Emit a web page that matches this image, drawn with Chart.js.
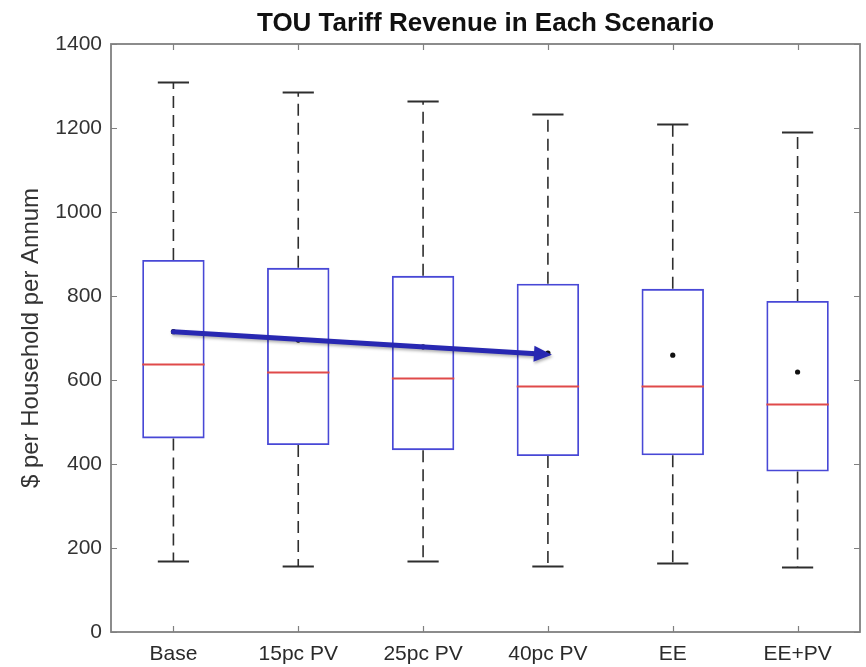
<!DOCTYPE html>
<html>
<head>
<meta charset="utf-8">
<script src="https://cdn.jsdelivr.net/npm/chart.js@4/dist/chart.umd.min.js"></script>
<style>
  html, body { margin: 0; padding: 0; background: #fff; }
  #wrap { width: 866px; height: 667px; position: relative; }
</style>
</head>
<body>
<div id="wrap"><canvas id="chart"></canvas></div>
<script>
// Box-plot summary per scenario ($ per household per annum)
const scenarios   = ['Base', '15pc PV', '25pc PV', '40pc PV', 'EE', 'EE+PV'];
const whiskerLow  = [169, 157, 169, 157, 164, 155];
const quartile1   = [461, 445, 433, 419, 421, 382];
const medians     = [637, 618, 605, 586, 586, 543];
const quartile3   = [886, 867, 848, 829, 817, 788];
const whiskerHigh = [1309, 1285, 1264, 1233, 1210, 1190];
const means       = [715, 695, 679, 664, 659, 619];
const yTickValues = [0, 200, 400, 600, 800, 1000, 1200, 1400];

// Trend arrow between two scenario means
const trendStart = ['Base', 715];
const trendEnd   = ['40pc PV', 660];

const FONT = "'Liberation Sans', Arial, Helvetica, sans-serif";
const BOX_BLUE = '#4848d6';
const MEDIAN_RED = '#e04a4a';
const FRAME_GREY = '#808080';

const boxPlotPlugin = {
  id: 'boxPlotExtras',
  afterDatasetsDraw(chart) {
    const { ctx, chartArea: a, scales: { x, y } } = chart;
    const meta = chart.getDatasetMeta(0);
    ctx.save();

    // whiskers, caps and medians
    scenarios.forEach((name, i) => {
      const bar = meta.data[i];
      const cx = x.getPixelForValue(i);
      const half = bar.width / 2;
      const capHalf = half / 2;

      ctx.strokeStyle = '#2e2e2e';
      ctx.lineWidth = 1.6;
      ctx.setLineDash([12, 7]);
      ctx.beginPath();
      ctx.moveTo(cx, y.getPixelForValue(quartile3[i]));
      ctx.lineTo(cx, y.getPixelForValue(whiskerHigh[i]));
      ctx.moveTo(cx, y.getPixelForValue(quartile1[i]));
      ctx.lineTo(cx, y.getPixelForValue(whiskerLow[i]));
      ctx.stroke();
      ctx.setLineDash([]);

      ctx.lineWidth = 1.8;
      ctx.beginPath();
      const hi = Math.round(y.getPixelForValue(whiskerHigh[i])) + 0.5;
      const lo = Math.round(y.getPixelForValue(whiskerLow[i])) + 0.5;
      ctx.moveTo(cx - capHalf, hi); ctx.lineTo(cx + capHalf, hi);
      ctx.moveTo(cx - capHalf, lo); ctx.lineTo(cx + capHalf, lo);
      ctx.stroke();

      ctx.strokeStyle = MEDIAN_RED;
      ctx.lineWidth = 1.8;
      ctx.beginPath();
      const my = Math.round(y.getPixelForValue(medians[i])) + 0.5;
      ctx.moveTo(cx - half, my); ctx.lineTo(cx + half, my);
      ctx.stroke();
    });

    // axes frame with inward tick marks
    ctx.strokeStyle = FRAME_GREY;
    ctx.lineWidth = 1.8;
    ctx.strokeRect(a.left, a.top, a.right - a.left, a.bottom - a.top);
    ctx.lineWidth = 1.2;
    ctx.beginPath();
    yTickValues.forEach(v => {
      const py = Math.round(y.getPixelForValue(v)) + 0.5;
      ctx.moveTo(a.left, py); ctx.lineTo(a.left + 6, py);
      ctx.moveTo(a.right, py); ctx.lineTo(a.right - 6, py);
    });
    scenarios.forEach((n, i) => {
      const px = Math.round(x.getPixelForValue(i)) + 0.5;
      ctx.moveTo(px, a.bottom); ctx.lineTo(px, a.bottom - 6);
      ctx.moveTo(px, a.top); ctx.lineTo(px, a.top + 6);
    });
    ctx.stroke();

    // trend arrow
    const x0 = x.getPixelForValue(scenarios.indexOf(trendStart[0]));
    const y0 = y.getPixelForValue(trendStart[1]);
    const x1 = x.getPixelForValue(scenarios.indexOf(trendEnd[0])) + 4;
    const y1 = y.getPixelForValue(trendEnd[1]);
    const ang = Math.atan2(y1 - y0, x1 - x0);
    const headLen = 18, headHalf = 8;
    const bx = x1 - headLen * Math.cos(ang), by = y1 - headLen * Math.sin(ang);
    ctx.shadowColor = 'rgba(0,0,0,0.3)';
    ctx.shadowBlur = 3;
    ctx.shadowOffsetX = 1;
    ctx.shadowOffsetY = 2;
    ctx.strokeStyle = '#2828b2';
    ctx.fillStyle = '#2828b2';
    ctx.lineWidth = 5;
    ctx.lineCap = 'round';
    ctx.beginPath();
    ctx.moveTo(x0, y0);
    ctx.lineTo(bx + 2 * Math.cos(ang), by + 2 * Math.sin(ang));
    ctx.stroke();
    ctx.beginPath();
    ctx.moveTo(x1, y1);
    ctx.lineTo(bx - headHalf * Math.sin(ang), by + headHalf * Math.cos(ang));
    ctx.lineTo(bx + headHalf * Math.sin(ang), by - headHalf * Math.cos(ang));
    ctx.closePath();
    ctx.fill();
    ctx.restore();
  },
  afterDraw(chart) {
    const { ctx, chartArea: a } = chart;
    ctx.save();
    ctx.fillStyle = '#111';
    ctx.font = `bold 26px ${FONT}`;
    ctx.textAlign = 'center';
    ctx.textBaseline = 'alphabetic';
    ctx.fillText('TOU Tariff Revenue in Each Scenario', (a.left + a.right) / 2, 31);

    ctx.fillStyle = '#333';
    ctx.font = `24px ${FONT}`;
    ctx.translate(38, (a.top + a.bottom) / 2);
    ctx.rotate(-Math.PI / 2);
    ctx.fillText('$ per Household per Annum', 0, 0);
    ctx.restore();
  }
};

new Chart(document.getElementById('chart'), {
  type: 'bar',
  data: {
    labels: scenarios,
    datasets: [
      {
        type: 'bar',
        data: quartile1.map((q, i) => [q, quartile3[i]]),
        backgroundColor: 'rgba(255,255,255,0)',
        borderColor: BOX_BLUE,
        borderWidth: 1.8,
        borderSkipped: false,
        barPercentage: 0.5,
        categoryPercentage: 1.0,
        order: 2
      },
      {
        type: 'line',
        data: means,
        showLine: false,
        pointRadius: 2.6,
        pointBackgroundColor: '#111',
        pointBorderWidth: 0,
        order: 1
      }
    ]
  },
  options: {
    responsive: true,
    maintainAspectRatio: false,
    animation: false,
    events: [],
    layout: { padding: { top: 44, right: 6, left: 0, bottom: 0 } },
    plugins: { legend: { display: false }, title: { display: false }, tooltip: { enabled: false } },
    scales: {
      x: {
        offset: true,
        grid: { display: false, drawTicks: false, tickLength: 0 },
        border: { display: false },
        ticks: { color: '#2a2a2a', font: { family: FONT, size: 21 }, padding: 10, maxRotation: 0 },
        afterFit(s) { s.height = 35; }
      },
      y: {
        min: 0,
        max: 1400,
        afterBuildTicks(s) { s.ticks = yTickValues.map(v => ({ value: v })); },
        grid: { display: false, drawTicks: false, tickLength: 0 },
        border: { display: false },
        ticks: { color: '#333', font: { family: FONT, size: 21 }, padding: 9, callback: v => String(v) },
        afterFit(s) { s.width = 111; }
      }
    }
  },
  plugins: [boxPlotPlugin]
});
</script>
</body>
</html>
